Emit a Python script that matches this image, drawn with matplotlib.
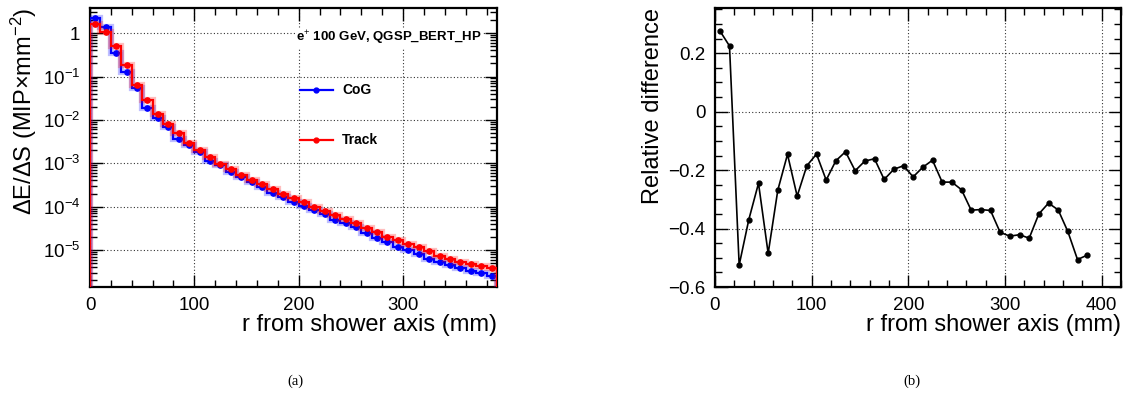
import numpy as np
import matplotlib
matplotlib.use("Agg")
import matplotlib.pyplot as plt
from matplotlib.ticker import MultipleLocator, LogLocator, NullFormatter, FixedLocator

plt.rcParams['font.family'] = ['Liberation Sans', 'DejaVu Sans']
plt.rcParams['mathtext.fontset'] = 'custom'
plt.rcParams['mathtext.rm'] = 'Liberation Sans'
plt.rcParams['mathtext.it'] = 'Liberation Sans:italic'
plt.rcParams['mathtext.bf'] = 'Liberation Sans:bold'

# ---------------- data ----------------
bin_edges = np.arange(0, 400, 10)  # 0..390 mm, 39 bins of 10 mm
cog = [2.2, 1.38, 0.34, 0.13, 0.053, 0.019, 0.011, 0.0069, 0.0037, 0.0026,
       0.00184, 0.00115, 0.0009, 0.00062, 0.00047, 0.00036, 0.00028, 0.00021, 0.00017,
       1.31e-4, 1.02e-4, 8.4e-5, 6.7e-5, 5.0e-5, 4.1e-5, 3.3e-5, 2.4e-5, 1.9e-5, 1.49e-5,
       1.17e-5, 9.8e-6, 7.9e-6, 6.3e-6, 5.4e-6, 4.6e-6, 3.8e-6, 3.35e-6, 2.9e-6, 2.45e-6]
track = [1.6, 1.05, 0.5, 0.18, 0.065, 0.028, 0.0138, 0.008, 0.0049, 0.0030,
         0.0020, 0.00143, 0.00098, 0.00072, 0.00054, 0.00041, 0.00033, 0.00025, 0.0002,
         1.56e-4, 1.26e-4, 1.0e-4, 8.1e-5, 6.5e-5, 5.2e-5, 4.15e-5, 3.2e-5, 2.55e-5, 2.0e-5,
         1.66e-5, 1.36e-5, 1.16e-5, 9.3e-6, 7.4e-6, 6.1e-6, 5.25e-6, 4.8e-6, 4.3e-6, 3.8e-6]
r_centers = [5, 15, 25, 35, 45, 55, 65, 75, 85, 95, 105, 115, 125, 135, 145, 155, 165,
             175, 185, 195, 205, 215, 225, 235, 245, 255, 265, 275, 285, 295, 305, 315,
             325, 335, 345, 355, 365, 375, 385]
rel_diff = [0.277, 0.225, -0.525, -0.369, -0.245, -0.485, -0.268, -0.146, -0.289, -0.185,
            -0.145, -0.234, -0.168, -0.137, -0.202, -0.169, -0.161, -0.232, -0.197, -0.185,
            -0.223, -0.190, -0.166, -0.241, -0.241, -0.267, -0.337, -0.335, -0.338, -0.413,
            -0.426, -0.421, -0.433, -0.350, -0.313, -0.336, -0.410, -0.506, -0.491]
legend_title = "e$^{+}$ 100 GeV, QGSP_BERT_HP"
series_names = ["CoG", "Track"]

BLUE = (0, 0, 1)
RED = (1, 0, 0)

fig = plt.figure(figsize=(11.29, 4.08), dpi=100)
W, H = 1129, 408

def frac(x0, y0, x1, y1):
    return [x0 / W, 1 - y1 / H, (x1 - x0) / W, (y1 - y0) / H]

def style_axes(ax):
    for s in ax.spines.values():
        s.set_linewidth(1.6)
    ax.tick_params(which='both', direction='in', top=True, right=True,
                   labelsize=13.5, pad=7)
    ax.tick_params(which='major', length=9, width=1.0)
    ax.tick_params(which='minor', length=5, width=1.0)
    ax.grid(True, which='major', linestyle=(0, (1, 2)), color='black',
            linewidth=0.8, alpha=0.8)
    ax.set_axisbelow(True)

# ---------------- left panel ----------------
ax1 = fig.add_axes(frac(90, 8, 497, 287))
centers = np.array(bin_edges[:-1]) + 5
ymin = 1.4e-6
for vals, col, zo in [(cog, BLUE, 3), (track, RED, 4)]:
    ax1.stairs(vals, bin_edges, baseline=ymin * 0.5, color=col, lw=4.5, alpha=0.25, zorder=zo)
    ax1.stairs(vals, bin_edges, baseline=ymin * 0.5, color=col, lw=1.6, zorder=zo + 0.1)
    ax1.plot(centers, vals, 'o', color=col, ms=3.8, zorder=zo + 0.2)
ax1.set_yscale('log')
ax1.set_xlim(0, 390)
ax1.set_ylim(ymin, 3.8)
ax1.xaxis.set_major_locator(MultipleLocator(100))
ax1.xaxis.set_minor_locator(MultipleLocator(20))
ax1.yaxis.set_major_locator(FixedLocator([1e-5, 1e-4, 1e-3, 1e-2, 1e-1, 1]))
ax1.yaxis.set_minor_locator(LogLocator(base=10, subs=np.arange(2, 10), numticks=20))
ax1.yaxis.set_minor_formatter(NullFormatter())
ax1.set_yticklabels(["$10^{-5}$", "$10^{-4}$", "$10^{-3}$", "$10^{-2}$", "$10^{-1}$", "1"])
style_axes(ax1)
ax1.set_xlabel("r from shower axis (mm)", fontsize=17, loc='right', labelpad=0)
ax1.set_ylabel("ΔE/ΔS (MIP×mm$^{-2}$)", fontsize=17, loc='top', labelpad=3)

# legend (ROOT-like, manually placed in axes coords)
def ax_xy(px, py, box):
    x0, y0, x1, y1 = box
    return ((px - x0) / (x1 - x0), 1 - (py - y0) / (y1 - y0))

box1 = (90, 8, 497, 287)
tx, ty = ax_xy(296, 38, box1)
ax1.text(tx, ty, legend_title, transform=ax1.transAxes, fontsize=9.5,
         fontweight='bold', ha='left', va='center', zorder=6,
         bbox=dict(facecolor='white', edgecolor='none', pad=1.0))
for name, col, py in [(series_names[0], BLUE, 90), (series_names[1], RED, 140)]:
    lx0, ly = ax_xy(300, py, box1)
    lx1, _ = ax_xy(333, py, box1)
    ax1.plot([lx0, lx1], [ly, ly], color=col, lw=1.6, transform=ax1.transAxes, zorder=6)
    ax1.plot([(lx0 + lx1) / 2], [ly], 'o', color=col, ms=3.5, transform=ax1.transAxes, zorder=6)
    txx, _ = ax_xy(342, py, box1)
    ax1.text(txx, ly, name, transform=ax1.transAxes, fontsize=10,
             fontweight='bold', ha='left', va='center', zorder=6)

# ---------------- right panel ----------------
ax2 = fig.add_axes(frac(715, 8, 1121, 287))
ax2.plot(r_centers, rel_diff, '-o', color='black', lw=1.2, ms=3.5, zorder=3)
ax2.set_xlim(0, 420)
ax2.set_ylim(-0.6, 0.355)
ax2.xaxis.set_major_locator(MultipleLocator(100))
ax2.xaxis.set_minor_locator(MultipleLocator(20))
ax2.yaxis.set_major_locator(MultipleLocator(0.2))
ax2.yaxis.set_minor_locator(MultipleLocator(0.05))
style_axes(ax2)
ax2.set_yticks([-0.6, -0.4, -0.2, 0, 0.2])
ax2.set_yticklabels(["−0.6", "−0.4", "−0.2", "0", "0.2"])
ax2.set_xlabel("r from shower axis (mm)", fontsize=17, loc='right', labelpad=0)
ax2.set_ylabel("Relative difference", fontsize=17, loc='top', labelpad=3)

# captions
fig.text(295 / W, 1 - 381 / H, "(a)", fontsize=10.5, family='Liberation Serif',
         ha='center', va='center')
fig.text(912 / W, 1 - 381 / H, "(b)", fontsize=10.5, family='Liberation Serif',
         ha='center', va='center')

fig.savefig("out.png", dpi=100)
